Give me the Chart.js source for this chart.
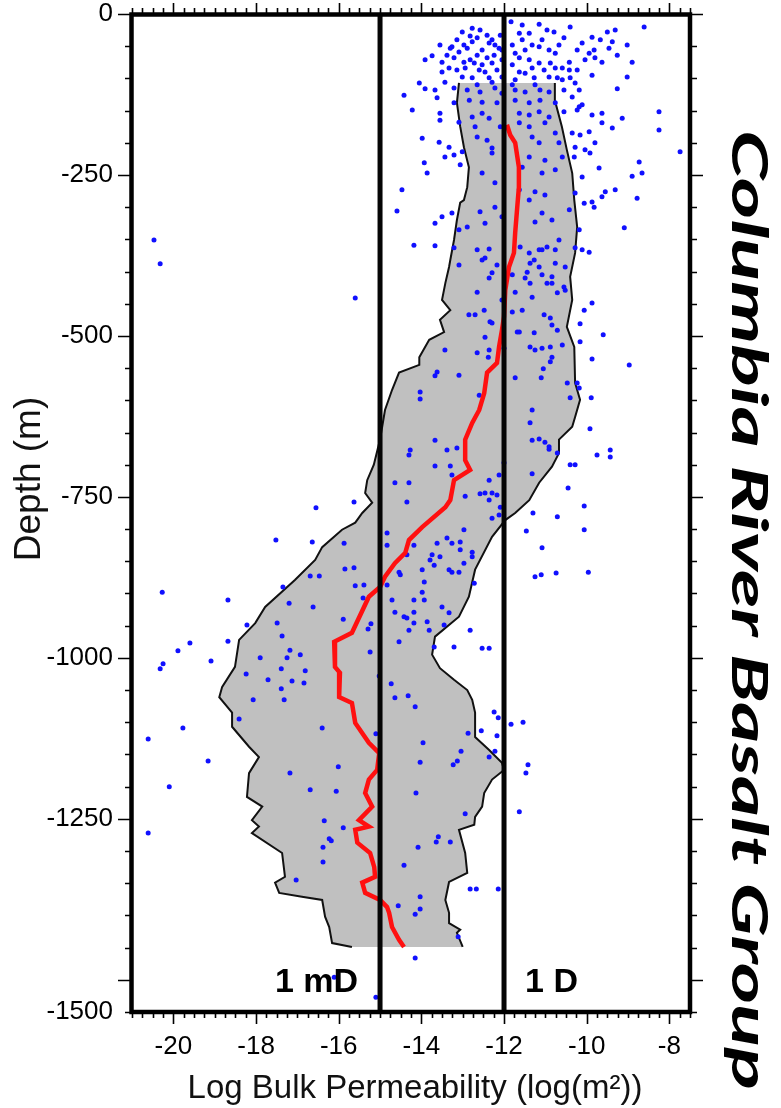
<!DOCTYPE html>
<html><head><meta charset="utf-8">
<script src="https://cdn.jsdelivr.net/npm/chart.js@4.4.0/dist/chart.umd.min.js"></script>
<style>html,body{margin:0;padding:0;background:#fff;}canvas{display:block;}</style>
</head><body>
<canvas id="c" width="781" height="1108"></canvas>
<script>
// ---------- tick labels ----------
const xTicks = [-20, -18, -16, -14, -12, -10, -8];
const yTickValues = [0, -250, -500, -750, -1000, -1250, -1550];
const yTickLabels = ['0', '-250', '-500', '-750', '-1000', '-1250', '-1500'];

// ---------- reference permeability lines ----------
const refLineX = [-15, -12];
const refLabels = ['1 mD', '1 D'];

// ---------- measured permeabilities (log m^2, depth m) ----------
const scatterX = [
-11.83,-11.15,-10.40,-8.61,-9.31,-9.50,-12.09,-11.63,-11.39,-10.79,-10.55,-9.87,-9.67,-9.38,-10.11,-12.65,-12.77,-12.36,-12.22,-12.12,
-13.26,-13.09,-12.89,-12.53,-11.49,-11.15,-10.91,-10.76,-9.82,-9.46,-9.94,-11.73,-11.63,-11.39,-11.15,-13.91,-13.74,-13.21,-12.97,-12.72,
-12.53,-12.29,-12.05,-10.42,-9.80,-12.94,-12.60,-12.17,-11.63,-11.49,-11.03,-10.76,-10.42,-13.50,-13.33,-13.01,-12.77,-12.36,-12.05,-11.73,
-11.27,-10.91,-10.59,-10.40,-9.02,-14.05,-13.91,-13.67,-13.43,-13.21,-12.58,-12.22,-12.05,-11.73,-11.49,-11.13,-10.91,-10.55,-10.28,-10.18,
-9.26,-14.42,-13.62,-13.21,-12.84,-12.53,-12.17,-11.73,-11.39,-11.13,-10.76,-10.35,-10.18,-10.11,-14.22,-13.55,-12.77,-12.53,-12.36,-11.63,
-11.39,-11.15,-10.91,-10.55,-10.23,-9.87,-9.63,-8.25,-9.14,-13.55,-13.09,-12.70,-12.09,-11.63,-11.39,-11.01,-10.76,-10.35,-10.16,-9.94,
-9.63,-9.38,-13.98,-13.57,-13.33,-12.65,-12.41,-12.29,-11.32,-11.15,-10.67,-10.28,-10.04,-9.80,-8.25,-7.74,-13.43,-13.21,-13.01,-12.29,
-11.39,-11.01,-10.59,-10.30,-9.92,-13.93,-13.06,-12.53,-11.56,-11.08,-10.76,-10.11,-9.70,-8.73,-13.86,-8.90,-8.66,-14.47,-12.22,-11.63,
-11.25,-11.01,-10.28,-10.06,-9.55,-9.63,-9.31,-8.78,-14.59,-13.50,-13.26,-12.58,-12.22,-11.39,-11.08,-10.42,-9.87,-9.82,-13.67,-12.89,
-12.46,-12.05,-11.25,-10.84,-10.18,-9.09,-13.09,-14.18,-13.67,-13.21,-12.65,-12.36,-11.61,-11.15,-10.96,-10.67,-10.28,-10.11,-9.94,
-13.14,-12.97,-12.82,-12.58,-12.41,-12.29,-12.24,-12.41,-12.65,-12.82,-13.38,-13.50,-13.14,-12.46,-12.29,-12.65,-12.89,-11.80,-11.56,-11.32,
-11.08,-10.96,-11.56,-10.67,-10.23,-10.04,-10.23,-9.87,-9.63,-9.26,-9.02,-8.90,-11.80,-11.32,-10.88,-10.59,-11.80,-11.25,-10.71,-12.05,
-13.30,-13.55,-12.77,-13.01,
-13.09,-12.53,-12.46,-12.17,-12.29,-12.36,-12.65,-12.05,-12.48,-12.70,-12.85,-12.34,-12.29,-12.46,-13.43,-12.65,-12.36,-12.38,-12.00,-13.62,
-13.67,-13.09,-12.60,-14.03,-14.03,-13.67,-14.27,-14.30,-13.38,-13.14,-13.67,-13.30,-12.00,-12.12,-12.36,-13.26,-14.64,-14.30,-14.35,-12.94,
-12.58,-12.46,-12.29,-12.17,-12.36,-12.09,-12.12,-12.29,-14.83,-14.83,-14.18,-13.62,-13.38,-13.26,-13.06,-12.97,-13.06,-12.77,-12.77,-13.74,
-13.55,-14.35,-14.83,-14.51,-14.54,-13.79,-13.69,-13.98,-13.93,-13.33,-13.26,-13.09,-12.97,-12.72,-14.71,-14.18,-13.93,-13.98,-13.50,-14.64,
-14.42,-14.35,-14.18,-14.18,-14.30,-13.86,-13.81,-13.45,-13.33,-12.82,-14.54,-13.69,-13.21,-12.53,-12.36,
-11.80,-11.73,-11.37,-11.27,-11.39,-11.08,-10.76,-11.15,-10.76,-10.52,-11.44,-11.49,-11.37,-11.08,-10.84,-10.96,-10.84,-10.55,-10.52,-10.71,
-11.56,-11.80,-11.32,-11.03,-10.88,-10.84,-10.71,-11.68,-11.63,-11.27,-11.37,-11.25,-11.08,-10.88,-10.84,-10.88,-10.59,-11.05,-11.10,-11.73,
-10.47,-10.23,-10.18,-10.40,-11.32,-11.37,-11.32,-11.15,-11.01,-10.91,-10.91,-10.71,-11.32,-10.06,-9.87,-10.16,-9.60,-10.16,-9.87,-8.97,
-9.89,-9.92,-9.75,-9.43,-9.43,-10.40,-10.28,-10.45,-10.06,-11.30,-10.71,-11.46,-10.06,-11.08,-11.25,-11.10,-10.74,-9.96,
-20.47,-20.32,-15.60,
-15.63,-16.55,-17.52,-16.64,-15.87,-20.27,-18.68,-17.35,-16.69,-16.47,-15.85,-15.63,-15.60,-15.39,-17.20,-16.62,-15.89,-15.41,-18.22,-17.49,
-17.37,-15.22,-15.29,-19.60,-18.68,-19.89,-17.18,-16.93,-17.25,-17.90,-20.25,-20.32,-19.09,-17.39,-16.81,-18.24,-17.71,-17.13,-16.84,-17.39,
-18.07,-17.32,-15.24,-19.77,-18.41,-16.40,-20.61,-15.10,-19.16,-16.01,-17.18,-14.03,-15.02,-14.73,-14.64,-14.32,-14.15,
-20.10,-20.61,-16.69,-16.06,-16.35,-15.89,-16.23,-16.18,-16.38,-16.38,-17.03,-14.13,-12.94,-11.63,-13.59,-13.64,-13.30,-14.08,-14.42,-12.82,
-12.67,-12.14,-14.03,-14.56,-14.03,-14.15,-13.11,-14.15,-16.11,-15.10,
-12.24,-12.14,-11.54,-11.83,-12.87,-12.55,-12.17,-13.96,-13.04,-12.22,-13.13,-13.23,-12.36,-11.42,-11.47
];
const scatterY = [
-12,-16,-20,-20,-25,-28,-33,-30,-30,-28,-37,-36,-40,-43,-45,-37,-43,-45,-48,-53,
-51,-59,-53,-56,-56,-51,-56,-61,-56,-53,-61,-61,-68,-71,-76,-71,-65,-68,-75,-76,
-79,-76,-71,-75,-68,-84,-87,-87,-90,-92,-87,-84,-87,-90,-84,-98,-99,-99,-98,-102,
-99,-98,-102,-99,-98,-107,-116,-118,-106,-115,-121,-115,-123,-118,-121,-118,-121,-118,-107,-118,
-116,-126,-130,-138,-134,-137,-138,-134,-138,-134,-138,-129,-144,-141,-149,-154,-160,-154,-162,-154,
-157,-152,-160,-152,-149,-157,-154,-152,-162,-165,-168,-175,-175,-169,-175,-169,-185,-185,-188,-183,
-169,-177,-193,-199,-207,-191,-196,-208,-191,-200,-200,-207,-211,-200,-180,-214,-222,-219,-214,-216,
-222,-227,-222,-222,-216,-231,-234,-247,-238,-247,-242,-253,-239,-230,-247,-252,-247,-273,-262,-273,
-276,-281,-278,-294,-276,-284,-273,-286,-306,-315,-309,-307,-300,-289,-309,-304,-292,-300,-325,-331,
-325,-315,-323,-320,-335,-332,-335,-359,-360,-363,-366,-365,-362,-366,-362,-351,-363,-366,-370,
-40,-48,-34,-25,-33,-40,-64,-68,-64,-71,-64,-75,-87,-90,-106,-110,-118,-48,-40,-48,
-40,-25,-17,-48,-56,-71,-87,-95,-75,-64,-48,-75,-79,-84,-76,-84,-110,-110,-99,-56,
-53,-48,-22,-28,
-390,-382,-379,-390,-402,-410,-432,-444,-460,-467,-467,-478,-480,-502,-522,-526,-522,-533,-519,-556,
-562,-561,-592,-587,-598,-662,-677,-685,-677,-674,-702,-702,-697,-716,-724,-716,-728,-728,-758,-749,
-745,-744,-744,-747,-755,-766,-778,-783,-806,-825,-825,-822,-814,-822,-820,-801,-832,-836,-843,-840,
-843,-840,-887,-871,-867,-848,-856,-863,-882,-863,-867,-867,-853,-884,-910,-910,-910,-898,-921,-929,
-936,-938,-929,-946,-957,-944,-957,-949,-930,-957,-975,-983,-983,-985,-985,
-405,-432,-387,-382,-371,-366,-366,-393,-387,-393,-401,-410,-418,-405,-408,-418,-418,-424,-429,-433,
-460,-463,-440,-467,-472,-483,-491,-494,-494,-495,-517,-522,-519,-517,-533,-540,-514,-551,-565,-565,
-573,-573,-581,-596,-615,-635,-662,-660,-665,-672,-676,-682,-714,-460,-449,-481,-498,-509,-536,-545,
-596,-644,-685,-677,-688,-700,-700,-736,-764,-775,-781,-803,-801,-829,-874,-871,-868,-867,
-351,-388,-441,
-758,-767,-817,-820,-822,-898,-910,-890,-873,-873,-862,-860,-888,-887,-915,-921,-940,-907,-949,-946,
-966,-947,-955,-977,-974,-989,-988,-995,-1000,-1000,-1009,-1017,-1005,-1017,-1020,-1025,-1034,-1036,-1039,-1048,
-1065,-1065,-991,-1109,-1095,-1109,-1126,-1118,-1160,-1169,-1179,-1162,-1028,-1040,-1062,-1059,-1076,
-1200,-1272,-1205,-1207,-1253,-1264,-1281,-1284,-1294,-1317,-1345,-1210,-1242,-1239,-1278,-1286,-1286,-1294,-1322,-1359,
-1359,-1359,-1371,-1385,-1390,-1398,-1433,-1466,-1496,-1527,
-1084,-1093,-1100,-1103,-1117,-1113,-1121,-1132,-1145,-1145,-1160,-1166,-1154,-1166,-1179
];

// ---------- spread envelope (left and right edges) ----------
const leftEdgeX = [-13.09,-13.14,-13.06,-12.97,-12.85,-12.89,-12.97,-13.06,-13.14,-13.21,-13.30,-13.33,-13.42,-13.50,-13.30,-13.55,-13.45,-13.81,-14.05,-14.05,
-14.54,-14.71,-14.88,-15.00,-15.15,-15.31,-15.36,-15.19,-15.43,-15.60,-15.92,-16.40,-16.57,-17.06,-17.78,-18.02,-18.41,-18.51,-18.82,-18.89,
-18.58,-18.58,-18.17,-17.93,-18.17,-18.22,-17.85,-18.10,-17.93,-18.10,-17.37,-17.30,-17.54,-17.44,-16.89,-16.40,-16.33,-16.23,-16.16,-15.68];
const leftEdgeY = [-107,-138,-175,-207,-238,-269,-289,-293,-320,-351,-382,-393,-418,-444,-460,-475,-494,-506,-533,-545,
-557,-584,-615,-661,-700,-724,-744,-759,-775,-790,-801,-828,-848,-879,-921,-946,-972,-1014,-1045,-1061,
-1085,-1107,-1138,-1154,-1179,-1216,-1231,-1252,-1262,-1272,-1303,-1340,-1349,-1365,-1371,-1376,-1402,-1418,-1443,-1449];
const rightEdgeX = [-10.77,-10.77,-10.60,-10.48,-10.35,-10.30,-10.23,-10.28,-10.40,-10.35,-10.48,-10.30,-10.28,-10.16,-10.28,-10.35,-10.67,-10.67,-10.84,-11.15,
-11.39,-11.73,-11.97,-12.29,-12.70,-12.85,-13.09,-13.67,-13.74,-13.55,-13.21,-12.89,-12.77,-12.70,-12.70,-12.36,-12.05,-12.00,-12.29,-12.48,
-12.53,-12.70,-12.72,-13.09,-12.94,-12.89,-13.33,-13.42,-13.33,-13.33,-13.06,-13.14,-13.00];
const rightEdgeY = [-107,-134,-175,-211,-247,-289,-331,-371,-408,-444,-486,-517,-573,-599,-626,-641,-661,-682,-703,-728,
-755,-775,-786,-812,-863,-905,-936,-967,-995,-1016,-1034,-1050,-1065,-1085,-1123,-1143,-1163,-1174,-1189,-1210,
-1231,-1247,-1259,-1267,-1303,-1334,-1348,-1376,-1396,-1412,-1422,-1427,-1449];

// ---------- median profile ----------
const medianX = [-11.93,-11.85,-11.73,-11.64,-11.64,-11.68,-11.73,-11.76,-11.88,-11.97,-12.00,-12.05,-12.12,-12.17,-12.41,-12.48,-12.60,-12.77,-12.94,-12.94,
-12.82,-13.21,-13.30,-13.42,-13.98,-14.30,-14.39,-14.64,-14.88,-15.00,-15.27,-15.68,-16.11,-16.09,-15.97,-15.99,-15.68,-15.60,-15.27,-15.02,
-15.07,-15.27,-15.36,-15.19,-15.51,-15.27,-15.60,-15.55,-15.24,-15.14,-15.12,-15.43,-15.36,-15.00,-14.83,-14.78,-14.71,-14.54,-14.42];
const medianY = [-172,-188,-200,-238,-269,-300,-340,-371,-393,-429,-470,-491,-517,-542,-557,-589,-615,-635,-661,-693,
-708,-724,-755,-766,-797,-817,-837,-853,-874,-890,-905,-961,-975,-1014,-1023,-1061,-1070,-1101,-1132,-1148,
-1174,-1189,-1210,-1231,-1252,-1262,-1267,-1287,-1303,-1325,-1340,-1349,-1365,-1376,-1387,-1396,-1418,-1438,-1449];

// ---------- build datasets ----------
const pts = (xs, ys) => xs.map((x, i) => ({x, y: ys[i]}));
const bandPolygon = pts(leftEdgeX, leftEdgeY).concat(pts(rightEdgeX, rightEdgeY).reverse());
const Y_MIN = -1550, Y_MAX = 0;
const refLineData = refLineX.map(x => [{x, y: Y_MAX}, {x, y: Y_MIN}]);

const lineDs = (data, color, width, order) => ({
  type: 'scatter', data, showLine: true, borderColor: color, borderWidth: width,
  pointRadius: 0, fill: false, order, tension: 0
});

const datasets = [
  lineDs(refLineData[0], '#050505', 5, 0),
  lineDs(refLineData[1], '#050505', 5, 0),
  lineDs(pts(medianX, medianY), '#ff1010', 4.5, 1),
  { type: 'scatter', data: pts(scatterX, scatterY), backgroundColor: '#1010ff', borderWidth: 0,
    pointRadius: 2.5, order: 2 },
  lineDs(pts(leftEdgeX, leftEdgeY), '#111', 2, 3),
  lineDs(pts(rightEdgeX, rightEdgeY), '#111', 2, 3),
  { type: 'scatter', data: bandPolygon, showLine: true, borderWidth: 0, borderColor: 'rgba(0,0,0,0)',
    backgroundColor: '#c0c0c0', fill: 'shape', pointRadius: 0, order: 4 }
];

const FONT = '"Liberation Sans", Arial, sans-serif';

// ---------- frame, minor ticks, labels, titles ----------
const framePlugin = {
  id: 'frame',
  afterDraw(chart) {
    const {ctx, chartArea: a, scales: {x, y}} = chart;
    ctx.save();
    ctx.strokeStyle = '#000';
    ctx.lineWidth = 1.6;
    ctx.beginPath();
    for (let k = 0; k <= 54; k++) {
      const v = -21 + k * 0.25;
      if (v < x.min - 1e-6 || v > x.max + 1e-6) continue;
      const px = Math.round(x.getPixelForValue(v)) + 0.5;
      const major = Math.abs(v / 2 - Math.round(v / 2)) < 1e-6;
      ctx.moveTo(px, a.top); ctx.lineTo(px, a.top - (major ? 11 : 6));
      ctx.moveTo(px, a.bottom); ctx.lineTo(px, a.bottom + (major ? 12 : 6));
    }
    for (let d = 0; d <= 1550; d += 50) {
      const py = Math.round(y.getPixelForValue(-d)) + 0.5;
      const major = d % 250 === 0;
      ctx.moveTo(a.left, py); ctx.lineTo(a.left - (major ? 12 : 5), py);
      ctx.moveTo(a.right, py); ctx.lineTo(a.right + (major ? 13 : 7), py);
    }
    ctx.stroke();
    ctx.lineWidth = 4.5;
    ctx.strokeRect(a.left + 1.5, a.top + 0.5, a.right - a.left - 1.5, a.bottom - a.top - 0.5);

    ctx.fillStyle = '#000';
    ctx.font = 'bold 34px ' + FONT;
    ctx.textBaseline = 'alphabetic';
    ctx.textAlign = 'right';
    ctx.fillText(refLabels[0], x.getPixelForValue(refLineX[0]) - 22, a.bottom - 20);
    ctx.textAlign = 'left';
    ctx.fillText(refLabels[1], x.getPixelForValue(refLineX[1]) + 21, a.bottom - 20);

    // x axis title
    ctx.fillStyle = '#111';
    ctx.font = '33px ' + FONT;
    ctx.textAlign = 'center';
    ctx.textBaseline = 'alphabetic';
    ctx.fillText('Log Bulk Permeability (log(m²))', (a.left + a.right) / 2 + 5, a.bottom + 86);

    // y axis title
    ctx.save();
    ctx.translate(30, (a.top + a.bottom) / 2 - 34);
    ctx.rotate(-Math.PI / 2);
    ctx.font = '37px ' + FONT;
    ctx.textAlign = 'center';
    ctx.textBaseline = 'middle';
    ctx.fillText('Depth (m)', 0, 0);
    ctx.restore();

    // side title
    const t = 'Columbia River Basalt Group';
    ctx.fillStyle = '#000';
    ctx.translate(748, 610);
    ctx.rotate(Math.PI / 2);
    ctx.font = 'italic bold 50px Lato, "Open Sans", sans-serif';
    ctx.textAlign = 'center';
    ctx.textBaseline = 'middle';
    const w = ctx.measureText(t).width;
    ctx.scale(960 / w, 1);
    ctx.fillText(t, 0, 0);
    ctx.restore();
  }
};

new Chart(document.getElementById('c'), {
  type: 'scatter',
  data: { datasets },
  options: {
    responsive: false, animation: false, devicePixelRatio: 1,
    layout: { padding: { left: 0, right: 91, top: 14, bottom: 0 } },
    plugins: { legend: { display: false }, tooltip: { enabled: false } },
    scales: {
      x: {
        type: 'linear', position: 'bottom', min: -21.05, max: -7.5,
        grid: { display: false, drawTicks: false }, border: { display: false },
        afterBuildTicks: s => { s.ticks = xTicks.map(v => ({value: v})); },
        afterFit: s => { s.height = 96; s.paddingLeft = 0; s.paddingRight = 0; },
        ticks: { font: { family: FONT, size: 26 }, color: '#000',
                 padding: 19, maxRotation: 0, autoSkip: false, callback: v => String(v) },
        title: { display: false }
      },
      y: {
        type: 'linear', position: 'left', min: Y_MIN, max: Y_MAX,
        grid: { display: false, drawTicks: false }, border: { display: false },
        afterBuildTicks: s => { s.ticks = yTickValues.map(v => ({value: v})); },
        afterFit: s => { s.width = 130; s.paddingTop = 0; s.paddingBottom = 0; },
        ticks: { font: { family: FONT, size: 26 }, color: '#000',
                 padding: 17, autoSkip: false, callback: (v, i) => yTickLabels[i] },
        title: { display: false }
      }
    }
  },
  plugins: [framePlugin]
});
</script>
</body></html>
